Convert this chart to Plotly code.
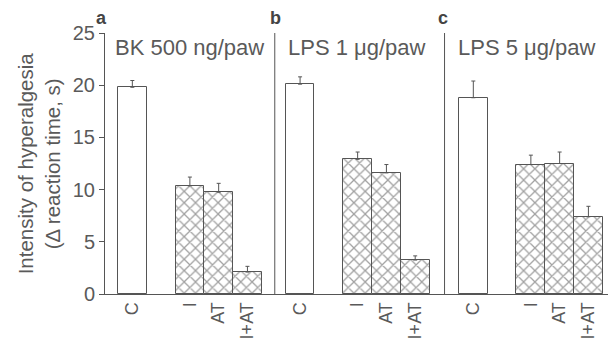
import plotly.graph_objects as go

categories = ["C", "I", "AT", "I+AT"]
panel_letters = ["a", "b", "c"]
panel_titles = ["BK 500 ng/paw", "LPS 1 μg/paw", "LPS 5 μg/paw"]

bk_means = [19.8, 10.35, 9.75, 2.1]
bk_err = [0.65, 0.85, 0.85, 0.55]
lps1_means = [20.1, 12.9, 11.6, 3.25]
lps1_err = [0.7, 0.7, 0.8, 0.4]
lps5_means = [18.8, 12.4, 12.5, 7.4]
lps5_err = [1.6, 0.9, 1.1, 1.0]

y_ticks = [0, 5, 10, 15, 20, 25]

means = [bk_means, lps1_means, lps5_means]
errs = [bk_err, lps1_err, lps5_err]

# layout (slot units)
panel_start = [0.95, 6.78, 12.8]
offsets = [0, 2, 3, 4]
dividers = [5.9, 11.8]

INK = "#555555"
TXT = "#5a5a5a"
FONT = "Liberation Sans, Arial, sans-serif"

fig = go.Figure()
tickvals, ticktext = [], []
for p in range(3):
    xs = [panel_start[p] + o for o in offsets]
    tickvals += xs
    ticktext += categories
    fig.add_trace(go.Bar(
        x=xs, y=means[p], width=1.0,
        marker=dict(
            color="white",
            line=dict(color=INK, width=1),
            pattern=dict(shape=["", "x", "x", "x"], fgcolor="#444444",
                         bgcolor="white", size=8, solidity=0.3),
        ),
        error_y=dict(type="data", symmetric=False, array=errs[p],
                     arrayminus=[0] * 4, color=INK, thickness=1, width=2),
        showlegend=False,
    ))

for d in dividers:
    fig.add_shape(type="line", x0=d, x1=d, y0=0, y1=25, xref="x", yref="y",
                  line=dict(color=INK, width=1))

title_x = [0.28, 6.3, 12.2]
letter_x = [-0.006, 0.337, 0.669]
for p in range(3):
    fig.add_annotation(x=title_x[p], y=23.6, xref="x", yref="y", text=panel_titles[p],
                       showarrow=False, xanchor="left", yanchor="middle",
                       font=dict(size=22, color=TXT, family=FONT))
    fig.add_annotation(x=letter_x[p], y=1.057, xref="paper", yref="paper", text="<b>%s</b>" % panel_letters[p],
                       showarrow=False, xanchor="center", yanchor="middle",
                       font=dict(size=18, color="#444444", family=FONT))

fig.add_annotation(x=-0.131, y=0.5, xref="paper", yref="paper",
                   text="Intensity of hyperalgesia<br>(Δ reaction time, s)",
                   textangle=-90, showarrow=False, xanchor="center", yanchor="middle",
                   font=dict(size=20.5, color=TXT, family=FONT))

# page body has an 8px default margin; compensate
fig.update_layout(
    width=608, height=341,
    margin=dict(l=97, r=6, t=25, b=55),
    paper_bgcolor="white", plot_bgcolor="white",
    font=dict(family=FONT, color=TXT, size=19),
    bargap=0,
    xaxis=dict(range=[0, 17.55], tickmode="array", tickvals=tickvals, ticktext=ticktext,
               tickangle=-90, showgrid=False, zeroline=False, showline=True,
               linecolor=INK, linewidth=1, ticks="", tickfont=dict(size=18),
               automargin=False),
    yaxis=dict(range=[0, 25], tickvals=y_ticks, showgrid=False, zeroline=False,
               showline=True, linecolor=INK, linewidth=1, ticks="outside",
               ticklen=5, tickcolor=INK, tickfont=dict(size=20),
               automargin=False),
)

fig.write_html("out.html")
